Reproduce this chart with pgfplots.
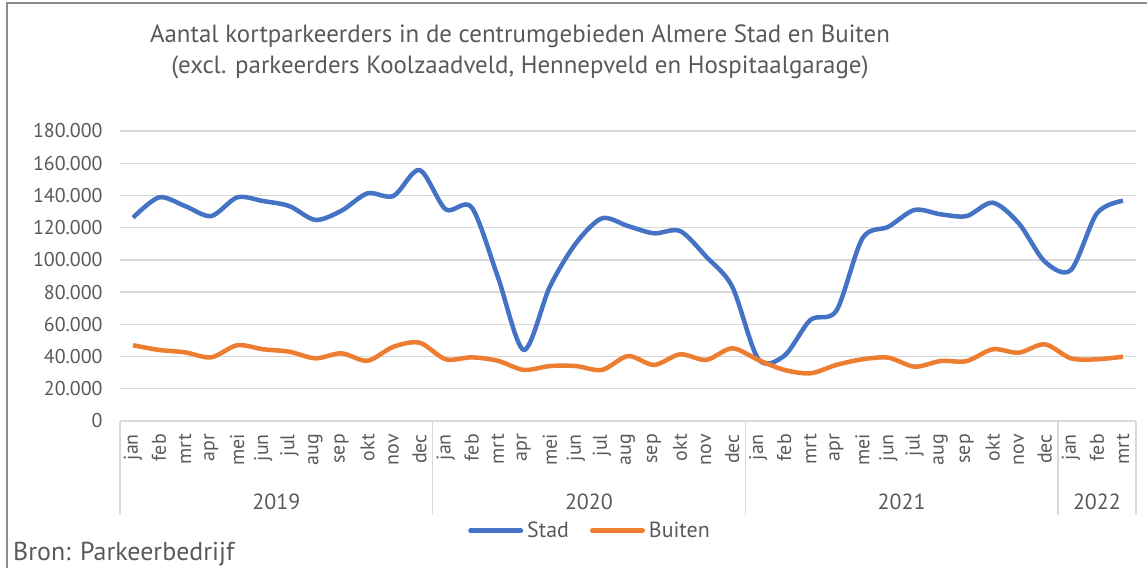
\documentclass[border=0pt]{standalone}
\usepackage{pgfplots}
\pgfplotsset{compat=1.18}
\usepackage{fontspec}
\setmainfont{PT Sans}
\definecolor{stad}{HTML}{4472C4}
\definecolor{buiten}{HTML}{ED7D31}
\definecolor{txt}{HTML}{595959}
\definecolor{gridc}{HTML}{D9D9D9}
\definecolor{framec}{HTML}{8C8C8C}
\begin{document}
\begin{tikzpicture}[x=1bp,y=1bp]
\useasboundingbox (0,0) rectangle (1147,568);
\draw[color=framec, line width=1.5bp] (7,-5) -- (7,565) -- (1160,565);
\begin{axis}[
  at={(120bp,147bp)}, anchor=south west,
  scale only axis, width=1016bp, height=290bp,
  xmin=-0.5, xmax=38.5, ymin=0, ymax=180000,
  clip=false,
  axis line style={draw=none},
  ymajorgrids, grid style={color=gridc, line width=1.3bp},
  ytick={0,20000,40000,60000,80000,100000,120000,140000,160000,180000},
  yticklabels={0,20.000,40.000,60.000,80.000,100.000,120.000,140.000,160.000,180.000},
  scaled y ticks=false,
  major tick length=0pt,
  yticklabel style={font=\fontsize{20}{22}\selectfont, text=txt, anchor=east, xshift=-14bp},
  xtick={0,...,38},
  xticklabels={jan,feb,mrt,apr,mei,jun,jul,aug,sep,okt,nov,dec,jan,feb,mrt,apr,mei,jun,jul,aug,sep,okt,nov,dec,jan,feb,mrt,apr,mei,jun,jul,aug,sep,okt,nov,dec,jan,feb,mrt},
  xticklabel style={font=\fontsize{20}{22}\selectfont, text=txt, yshift=-13bp, rotate=90, anchor=east, inner sep=0pt},
  legend style={at={(0.4616,-0.379)}, anchor=center, draw=none, fill=none, legend columns=-1,
    font=\fontsize{22}{24}\selectfont, text=txt,
    nodes={inner sep=0pt},
    /tikz/every odd column/.append style={column sep=4bp},
    /tikz/every even column/.append style={column sep=21bp}},
  legend image code/.code={\draw[#1, line cap=round, line width=5bp] (2.5bp,0bp) -- (52.5bp,0bp);},
]
\addplot[stad, line width=4.5bp, smooth, line join=round] coordinates {
(0,126200) (1,138800) (2,133400) (3,127200) (4,138800) (5,136500) (6,133400) (7,124800) (8,130500) (9,141300) (10,139700) (11,155800)
(12,131400) (13,132600) (14,89600) (15,44100) (16,83400) (17,110300) (18,125800) (19,121000) (20,116500) (21,117900) (22,102000) (23,83400)
(24,38500) (25,40500) (26,62700) (27,68500) (28,113400) (29,120600) (30,131000) (31,128300) (32,127200) (33,135500) (34,122700) (35,98900)
(36,93700) (37,128900) (38,136700)
};
\addlegendentry{Stad}
\addplot[buiten, line width=4.5bp, smooth, line join=round] coordinates {
(0,47000) (1,44100) (2,42600) (3,39500) (4,47000) (5,44500) (6,43000) (7,38900) (8,42000) (9,37400) (10,46100) (11,48600)
(12,38300) (13,39500) (14,37400) (15,31700) (16,34100) (17,34100) (18,31700) (19,40300) (20,34800) (21,41400) (22,37900) (23,45100)
(24,37900) (25,31700) (26,29600) (27,34800) (28,38300) (29,39300) (30,33700) (31,37200) (32,37200) (33,44500) (34,42400) (35,47600)
(36,38900) (37,38300) (38,39900)
};
\addlegendentry{Buiten}
\foreach \xx in {-0.5,11.5,23.5,35.5,38.5}{
  \edef\tmp{\noexpand\draw[gridc, line width=1.3bp] (axis cs:\xx,0) -- ++(0bp,-94bp);}\tmp
}
\node[font=\fontsize{22}{24}\selectfont, text=txt] at ([yshift=-81bp]axis cs:5.5,0) {2019};
\node[font=\fontsize{22}{24}\selectfont, text=txt] at ([yshift=-81bp]axis cs:17.5,0) {2020};
\node[font=\fontsize{22}{24}\selectfont, text=txt] at ([yshift=-81bp]axis cs:29.5,0) {2021};
\node[font=\fontsize{22}{24}\selectfont, text=txt] at ([yshift=-81bp]axis cs:37,0) {2022};
\end{axis}
\node[align=center, font=\fontsize{25}{31}\selectfont, text=txt] at (520,516) {Aantal kortparkeerders in de centrumgebieden Almere Stad en Buiten\\(excl. parkeerders Koolzaadveld, Hennepveld en Hospitaalgarage)};
\node[anchor=base west, inner sep=0pt, font=\fontsize{26}{28}\selectfont, text=txt] at (13,7) {Bron: Parkeerbedrijf};
\end{tikzpicture}
\end{document}
